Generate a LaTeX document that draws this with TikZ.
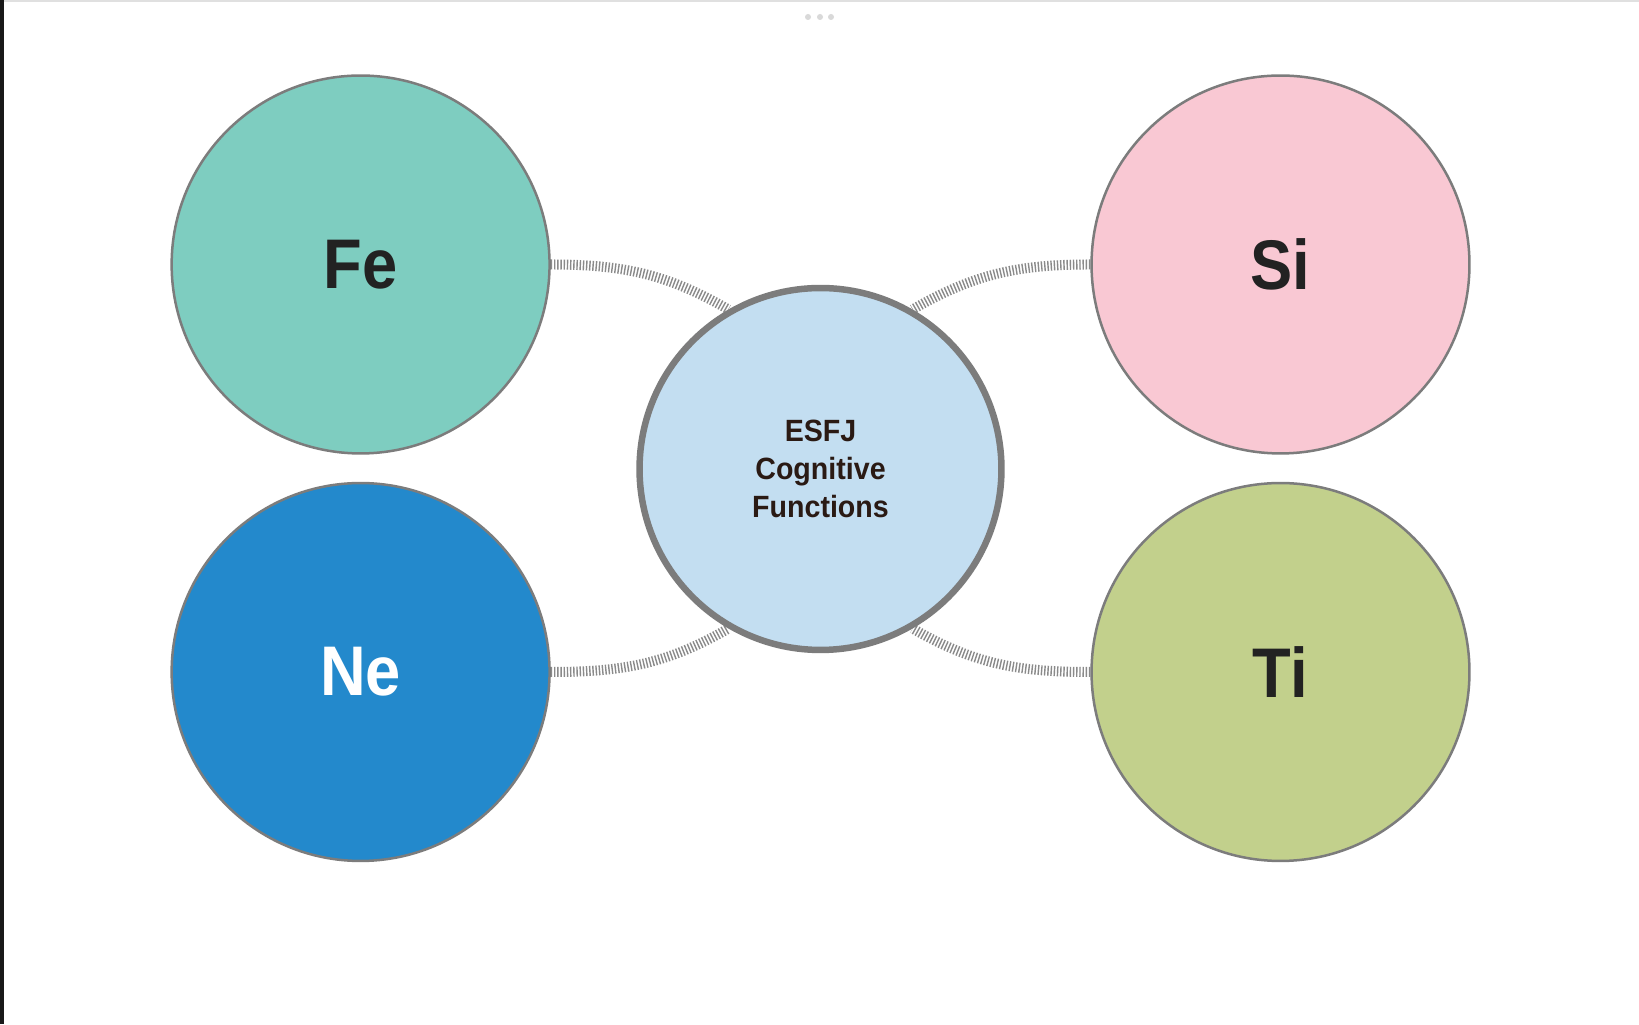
\documentclass[tikz,border=0pt]{standalone}
\usepackage{fontspec}
\setmainfont{Liberation Sans}
\newfontfamily\bigface[FakeStretch=0.9]{Liberation Sans}
\newfontfamily\hubface[FakeStretch=0.93]{Liberation Sans}
\usetikzlibrary{backgrounds}
\definecolor{fecol}{HTML}{7ECDC0}
\definecolor{necol}{HTML}{2389CC}
\definecolor{sicol}{HTML}{F9C8D3}
\definecolor{ticol}{HTML}{C2D08C}
\definecolor{hubcol}{HTML}{C3DEF1}
\definecolor{rimgray}{HTML}{7C7C7C}
\definecolor{tickgray}{HTML}{8A8A8A}
\definecolor{inkdark}{HTML}{222222}
\definecolor{hubink}{HTML}{2A1A14}
\begin{document}
\begin{tikzpicture}[x=0.02cm, y=0.02cm,
	func/.style={circle, draw=rimgray, line width=0.05cm, minimum size=7.56cm, inner sep=0pt, text=inkdark, font=\bigface\fontsize{40}{48}\selectfont\bfseries},
	hub/.style={circle, draw=rimgray, line width=0.13cm, minimum size=7.24cm, inner sep=0pt, fill=hubcol, align=center, text=hubink, font=\hubface\fontsize{17.5}{21.6}\selectfont\bfseries},
	link/.style={draw=tickgray, line width=0.2cm, dash pattern=on 0.028cm off 0.036cm}]
	\def\leftx{360.6}
	\def\rightx{1280.5}

	\useasboundingbox (0,0) rectangle (1639,1024);
	\begin{scope}[on background layer]
		\fill[white] (0,0) rectangle (1639,1024);
	\end{scope}
	\fill[black!90] (0,0) rectangle (4,1024);
	\fill[black!12] (4,1022) rectangle (1639,1024);
	\foreach \x in {808,820,831}
		\fill[black!15] (\x,1007) circle (0.06cm);

	\node[func, fill=fecol] (fe) at (\leftx, 759.5) {Fe};
	\node[func, fill=necol, text=white] (ne) at (\leftx, 352) {Ne};
	\node[func, fill=sicol] (si) at (\rightx, 759.5) {Si};
	\node[func, fill=ticol] (ti) at (\rightx, 352) {Ti};
	\node[hub] (hub) at (820.5, 555) {ESFJ\\Cognitive\\Functions};

	\begin{scope}[on background layer]
		\draw[link] (fe.east) to[out=0, in=150] (hub.120);
		\draw[link] (ne.east) to[out=0, in=210] (hub.240);
		\draw[link] (si.west) to[out=180, in=30] (hub.60);
		\draw[link] (ti.west) to[out=180, in=330] (hub.300);
	\end{scope}
\end{tikzpicture}
\end{document}
